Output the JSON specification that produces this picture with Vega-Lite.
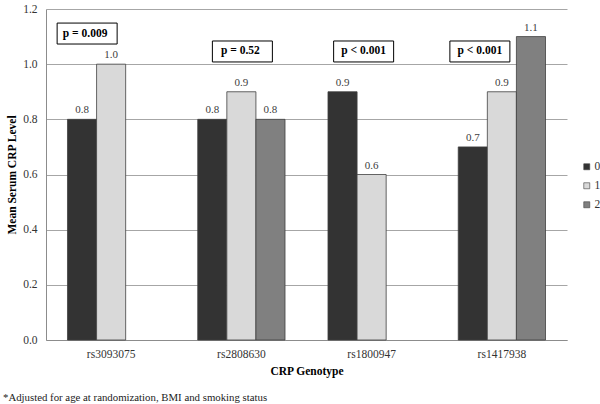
{
  "$schema": "https://vega.github.io/schema/vega-lite/v6.json",
  "width": 521,
  "height": 331,
  "autosize": {"type": "none"},
  "padding": {"left": 46, "top": 9, "right": 33, "bottom": 64},
  "background": "white",
  "config": {
    "font": "Liberation Serif",
    "view": {"stroke": null},
    "axis": {"labelFont": "Liberation Serif", "titleFont": "Liberation Serif", "labelColor": "#333333", "titleColor": "#000000"}
  },
  "title": {
    "text": "*Adjusted for age at randomization, BMI and smoking status",
    "orient": "bottom",
    "anchor": "start",
    "frame": "group",
    "dx": -43,
    "offset": 15,
    "font": "Liberation Serif",
    "fontSize": 10.8,
    "fontWeight": "normal",
    "color": "#222222"
  },
  "datasets": {
    "bars": [
      {"snp": "rs3093075", "genotype": "0", "level": 0.8},
      {"snp": "rs3093075", "genotype": "1", "level": 1.0},
      {"snp": "rs2808630", "genotype": "0", "level": 0.8},
      {"snp": "rs2808630", "genotype": "1", "level": 0.9},
      {"snp": "rs2808630", "genotype": "2", "level": 0.8},
      {"snp": "rs1800947", "genotype": "0", "level": 0.9},
      {"snp": "rs1800947", "genotype": "1", "level": 0.6},
      {"snp": "rs1417938", "genotype": "0", "level": 0.7},
      {"snp": "rs1417938", "genotype": "1", "level": 0.9},
      {"snp": "rs1417938", "genotype": "2", "level": 1.1}
    ],
    "pvals": [
      {"snp": "rs3093075", "p": "p = 0.009"},
      {"snp": "rs2808630", "p": "p = 0.52"},
      {"snp": "rs1800947", "p": "p < 0.001"},
      {"snp": "rs1417938", "p": "p < 0.001"}
    ]
  },
  "encoding": {
    "x": {
      "field": "snp",
      "type": "nominal",
      "sort": ["rs3093075", "rs2808630", "rs1800947", "rs1417938"],
      "scale": {"domain": ["rs3093075", "rs2808630", "rs1800947", "rs1417938"], "paddingInner": 0.33, "paddingOuter": 0.165},
      "axis": {
        "title": "CRP Genotype",
        "titleFontWeight": "bold",
        "titleFontSize": 11.5,
        "titlePadding": 6,
        "labelAngle": 0,
        "labelFontSize": 11.5,
        "labelPadding": 8,
        "ticks": false,
        "domainColor": "#8c8c8c",
        "grid": false
      }
    }
  },
  "layer": [
    {
      "data": {"name": "bars"},
      "mark": {"type": "bar", "stroke": "#404040", "strokeWidth": 0.8},
      "encoding": {
        "xOffset": {"field": "genotype", "type": "nominal", "scale": {"domain": ["0", "1", "2"], "paddingInner": 0, "paddingOuter": 0}},
        "y": {
          "field": "level",
          "type": "quantitative",
          "scale": {"domain": [0, 1.2], "nice": false},
          "axis": {
            "title": "Mean Serum CRP Level",
            "titleFontWeight": "bold",
            "titleFontSize": 11.5,
            "titlePadding": 5,
            "values": [0, 0.2, 0.4, 0.6, 0.8, 1.0, 1.2],
            "format": ".1f",
            "labelFontSize": 11.5,
            "labelPadding": 9,
            "ticks": false,
            "domainColor": "#8c8c8c",
            "gridColor": "#a6a6a6",
            "gridWidth": 1
          }
        },
        "color": {
          "field": "genotype",
          "type": "nominal",
          "scale": {"domain": ["0", "1", "2"], "range": ["#333333", "#d9d9d9", "#808080"]},
          "legend": {
            "title": null,
            "orient": "none",
            "legendX": 535,
            "legendY": 152,
            "symbolType": "square",
            "symbolSize": 36,
            "symbolStrokeColor": "#404040",
            "symbolStrokeWidth": 0.6,
            "labelFont": "Liberation Serif",
            "labelFontSize": 11.5,
            "labelColor": "#333333",
            "rowPadding": 6,
            "labelOffset": 2
          }
        }
      }
    },
    {
      "data": {"name": "bars"},
      "mark": {"type": "text", "baseline": "bottom", "dy": -4, "fontSize": 11, "font": "Liberation Serif", "color": "#404040"},
      "encoding": {
        "xOffset": {"field": "genotype", "type": "nominal", "scale": {"domain": ["0", "1", "2"]}},
        "y": {"field": "level", "type": "quantitative"},
        "text": {"field": "level", "type": "quantitative", "format": ".1f"}
      }
    },
    {
      "data": {"name": "pvals"},
      "transform": [{"filter": "datum.snp == 'rs3093075'"}],
      "mark": {"type": "bar", "width": 60, "xOffset": -24, "fill": "white", "stroke": "#000000", "strokeWidth": 1},
      "encoding": {"y": {"datum": 1.149}, "y2": {"datum": 1.073}}
    },
    {
      "data": {"name": "pvals"},
      "transform": [{"filter": "datum.snp == 'rs2808630'"}],
      "mark": {"type": "bar", "width": 60, "xOffset": 1, "fill": "white", "stroke": "#000000", "strokeWidth": 1},
      "encoding": {"y": {"datum": 1.084}, "y2": {"datum": 1.008}}
    },
    {
      "data": {"name": "pvals"},
      "transform": [{"filter": "datum.snp == 'rs1800947'"}],
      "mark": {"type": "bar", "width": 60, "xOffset": -8, "fill": "white", "stroke": "#000000", "strokeWidth": 1},
      "encoding": {"y": {"datum": 1.084}, "y2": {"datum": 1.008}}
    },
    {
      "data": {"name": "pvals"},
      "transform": [{"filter": "datum.snp == 'rs1417938'"}],
      "mark": {"type": "bar", "width": 60, "xOffset": -22, "fill": "white", "stroke": "#000000", "strokeWidth": 1},
      "encoding": {"y": {"datum": 1.084}, "y2": {"datum": 1.008}}
    },
    {
      "data": {"name": "pvals"},
      "transform": [{"filter": "datum.snp == 'rs3093075'"}],
      "mark": {"type": "text", "dx": -26, "baseline": "middle", "fontWeight": "bold", "fontSize": 11.5, "font": "Liberation Serif", "color": "#000000"},
      "encoding": {"y": {"datum": 1.111}, "text": {"field": "p"}}
    },
    {
      "data": {"name": "pvals"},
      "transform": [{"filter": "datum.snp == 'rs2808630'"}],
      "mark": {"type": "text", "dx": -1, "baseline": "middle", "fontWeight": "bold", "fontSize": 11.5, "font": "Liberation Serif", "color": "#000000"},
      "encoding": {"y": {"datum": 1.046}, "text": {"field": "p"}}
    },
    {
      "data": {"name": "pvals"},
      "transform": [{"filter": "datum.snp == 'rs1800947'"}],
      "mark": {"type": "text", "dx": -8, "baseline": "middle", "fontWeight": "bold", "fontSize": 11.5, "font": "Liberation Serif", "color": "#000000"},
      "encoding": {"y": {"datum": 1.046}, "text": {"field": "p"}}
    },
    {
      "data": {"name": "pvals"},
      "transform": [{"filter": "datum.snp == 'rs1417938'"}],
      "mark": {"type": "text", "dx": -22, "baseline": "middle", "fontWeight": "bold", "fontSize": 11.5, "font": "Liberation Serif", "color": "#000000"},
      "encoding": {"y": {"datum": 1.046}, "text": {"field": "p"}}
    }
  ]
}
